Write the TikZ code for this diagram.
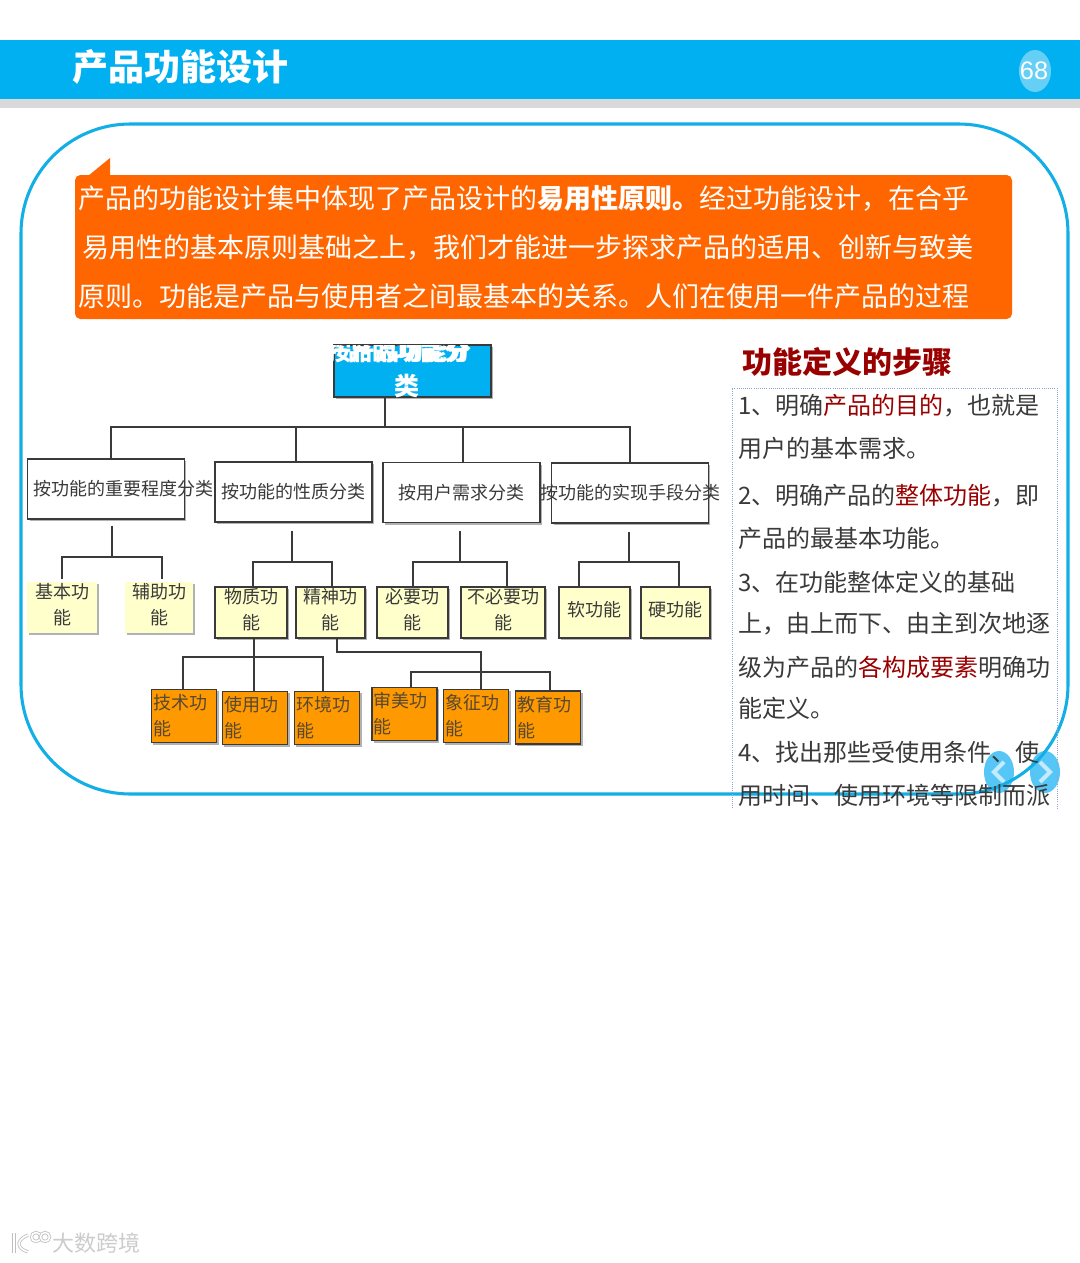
\documentclass[tikz,border=0pt]{standalone}
\usepackage{fontspec}
\setmainfont{Noto Sans CJK SC}
\newfontfamily\latfont{Liberation Sans}
\usetikzlibrary{calc,positioning,shadows}
\definecolor{kek}{HTML}{00B0F0}
\definecolor{keret}{HTML}{12AEE6}
\definecolor{nar}{HTML}{FF6600}
\definecolor{sarga}{HTML}{FFFFCC}
\definecolor{narfa}{HTML}{FF9900}
\definecolor{bor}{HTML}{990000}
\definecolor{sotet}{HTML}{3A3A3A}
\definecolor{gomb}{HTML}{55C6F5}
\definecolor{pont}{HTML}{8FA8CF}
\newcommand{\kisbetu}{\fontsize{13.5}{19.5}\selectfont}
\newcommand{\fobetu}{\bfseries\fontsize{18}{20}\selectfont}
\tikzset{
  arny/.style={drop shadow={shadow xshift=1.6pt,shadow yshift=-1.6pt,opacity=.3,fill=black}},
  vonal/.style={draw=sotet,line width=1.1pt},
  fodob/.style={draw=sotet,line width=1.1pt,fill=kek,arny,minimum width=118pt,minimum height=39pt,inner sep=0pt},
  kat/.style={draw=sotet,line width=1.1pt,fill=white,arny,minimum width=117.5pt,minimum height=45pt,inner sep=0pt,
    font=\kisbetu,text=sotet},
  lap/.style={fill=sarga,arny,minimum width=52pt,minimum height=38pt,inner sep=0pt,align=center,font=\kisbetu,text=sotet,
    text depth=6pt},
  sar/.style={lap,draw=sotet,line width=1.1pt},
  nfa/.style={draw=sotet,line width=1.1pt,fill=narfa,arny,text width=46pt,inner xsep=1.5pt,inner ysep=0pt,
    minimum height=40pt,align=left,font=\kisbetu,text=sotet!85!narfa},
  gombe/.style={fill=gomb},
  nyil/.style={white,opacity=.65,line width=3pt},
  viz/.style={draw=black!25,line width=.6pt,double=white,double distance=1.2pt},
}
\begin{document}
\begin{tikzpicture}[x=0.75pt,y=-0.75pt]
  \fill[white] (0,0) rectangle (1080,1263);
  \useasboundingbox (0,0) rectangle (1080,1263);
  % fejlec
  \fill[kek] (0,40) rectangle (1080,99);
  \fill[black!15] (0,99) rectangle (1080,108);
  \node[font=\bfseries\fontsize{27}{30}\selectfont,text=white] (cim) at (180.5,67) {产品功能设计};
  \fill[white,opacity=.4] (1035,71) ellipse [x radius=16,y radius=21];
  \node[font=\latfont\fontsize{19}{22}\selectfont,text=white] (oldal) at (1034,71) {68};
  % gombok, keret
  \fill[gombe] (999,772) ellipse [x radius=15,y radius=21];
  \fill[gombe] (1045,772) ellipse [x radius=15,y radius=21];
  \draw[nyil] (1004,762) -- (994,772) -- (1004,782);
  \draw[nyil] (1040,762) -- (1050,772) -- (1040,782);
  \draw[keret,line width=2.3pt,rounded corners=82pt] (21,124) rectangle (1068,794);
  % narancs doboz
  \fill[nar,rounded corners=4pt] (75,175) rectangle (1012,319);
  \fill[nar] (88,176) -- (110,158) -- (110,176) -- cycle;
  \node[anchor=west,align=left,inner sep=0pt,text=white,font=\fontsize{20.25}{36.75}\selectfont] (bev) at (78,247) {%
    产品的功能设计集中体现了产品设计的\textbf{易用性原则。}经过功能设计，在合乎\\
    \hspace*{3pt}易用性的基本原则基础之上，我们才能进一步探求产品的适用、创新与致美\\
    原则。功能是产品与使用者之间最基本的关系。人们在使用一件产品的过程};
  % fa
  \node[fodob] (fo) at (412.5,371) {};
  \begin{scope}
    \clip (320,345) rectangle (495,405);
    \node[anchor=east,inner sep=0pt,text=white,font=\fobetu] (fo1) at (472,351) {按产品功能分};
    \node[anchor=east,inner sep=0pt,text=white,font=\fobetu] (fo2) at (469,351) {产品的功能分};
    \node[text=white,font=\bfseries\fontsize{18.75}{20}\selectfont] (fo3) at (407,386) {类};
  \end{scope}
  \node[kat] (k1) at (106,489) {\makebox[0pt]{\hspace{26pt}按功能的重要程度分类}};
  \node[kat] (k2) at (293.5,492) {按功能的性质分类};
  \node[kat] (k3) at (461.5,492.5) {按用户需求分类};
  \node[kat] (k4) at (630,493) {\makebox[0pt]{按功能的实现手段分类}};
  \node[lap] (a1) at (62,607.5) {基本功\\能};
  \node[lap,minimum width=51pt] (a2) at (159,607.5) {辅助功\\能};
  \node[sar,minimum width=54pt] (b1) at (251,612.5) {物质功\\能};
  \node[sar] (b2) at (330.5,612.5) {精神功\\能};
  \node[sar,minimum width=53pt] (b3) at (412.5,612.5) {必要功\\能};
  \node[sar,minimum width=63pt] (b4) at (503,612.5) {不必要功\\能};
  \node[sar,minimum width=53pt] (b5) at (594.5,612.5) {软功能};
  \node[sar] (b6) at (675.5,612.5) {硬功能};
  \node[nfa] (c1) at (184,716) {技术功\\能};
  \node[nfa] (c2) at (255,718) {使用功\\能};
  \node[nfa] (c3) at (327,718) {环境功\\能};
  \node[nfa] (c4) at (404.5,714) {审美功\\能};
  \node[nfa] (c5) at (476,716) {象征功\\能};
  \node[nfa] (c6) at (548,717.5) {教育功\\能};
  % vonalak
  \coordinate (t0) at (385,427);
  \coordinate (t1) at (112,557);
  \coordinate (t2) at (292,562);
  \coordinate (t3) at (460,562);
  \coordinate (t4) at (629,562);
  \coordinate (t5) at (254,657);
  \coordinate (t6) at (481,652);
  \coordinate (t7) at (481,672);
  \draw[vonal] (fo.south -| t0) -- (t0);
  \draw[vonal] ([xshift=3.75pt]k1.north) |- (t0) -| (k4.north);
  \draw[vonal] ([xshift=1.9pt]k2.north) |- (t0);
  \draw[vonal] ([xshift=1.1pt]k3.north) |- (t0);
  \draw[vonal] ([yshift=-4.5pt]k1.south -| t1) -- (t1);
  \draw[vonal] ([yshift=2pt]a1.north) |- (t1) -| ([xshift=2.2pt,yshift=2pt]a2.north);
  \draw[vonal] ([yshift=-6pt]k2.south -| t2) -- (t2);
  \draw[vonal] ([xshift=1.5pt]b1.north) |- (t2) -| ([xshift=1.1pt]b2.north);
  \draw[vonal] ([yshift=-6pt]k3.south -| t3) -- (t3);
  \draw[vonal] ([xshift=.4pt]b3.north) |- (t3) -| ([xshift=3pt]b4.north);
  \draw[vonal] ([yshift=-6pt]k4.south -| t4) -- (t4);
  \draw[vonal] ([xshift=-11.6pt]b5.north) |- (t4) -| ([xshift=2.6pt]b6.north);
  \draw[vonal] (b1.south -| t5) -- (c2.north -| t5);
  \draw[vonal,line width=1.8pt] (b1.south -| t5) -- ++(0,35);
  \draw[vonal] ([xshift=-.8pt]c1.north) |- (t5) -| ([xshift=-3pt]c3.north);
  \draw[vonal] ([xshift=5pt]b2.south) |- (t6) -- (c5.north -| t6);
  \draw[vonal] ([xshift=4.9pt]c4.north) |- (t7) -| ([xshift=1.5pt]c6.north);
  % lepesek
  \node[anchor=west,inner sep=0pt,text=bor,font=\bfseries\fontsize{22.5}{26}\selectfont] (lep) at (742,362) {功能定义的步骤};
  \draw[draw=pont,densely dotted,line width=.6pt] (732,808) -- (732,388) -- (1057,388) -- (1057,808);
  \node[anchor=north west,align=left,text=sotet,inner sep=0pt,font=\fontsize{18}{32.25}\selectfont] (szov) at (738,394) {%
    1、明确\textcolor{bor}{产品的目的}，也就是\\
    用户的基本需求。\\[3pt]
    2、明确产品的\textcolor{bor}{整体功能}，即\\
    产品的最基本功能。\\[.75pt]
    3、在功能整体定义的基础\\[-1.5pt]
    上，由上而下、由主到次地逐\\[.75pt]
    级为产品的\textcolor{bor}{各构成要素}明确功\\[-1.5pt]
    能定义。\\[.75pt]
    4、找出那些受使用条件、使\\
    用时间、使用环境等限制而派};
  % vizjel
  \draw[viz] (14,1233) -- (14,1253);
  \draw[viz] (28,1235) .. controls (16,1240) and (16,1248) .. (28,1252);
  \draw[viz] (36,1237) circle [radius=4.5];
  \draw[viz] (45,1237) circle [radius=4.5];
  \node[text=black!20,font=\fontsize{16.5}{20}\selectfont] (felirat) at (96,1243) {大数跨境};
\end{tikzpicture}
\end{document}
